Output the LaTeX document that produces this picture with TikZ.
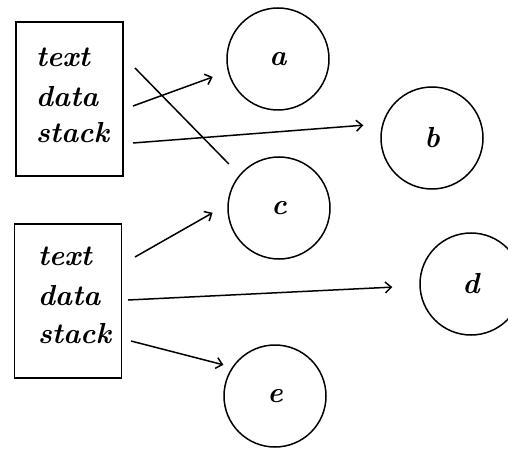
\documentclass[tikz,border=0pt]{standalone}
\usepackage{fontspec}
\usetikzlibrary{arrows.meta}

\begin{document}
\begin{tikzpicture}[x=1pt,y=-1pt,line width=1.5pt,
  proc/.style={draw,minimum width=107pt,minimum height=154pt},
  seg/.style={font=\fontsize{29}{38}\selectfont\bfseries\itshape,anchor=base west,inner sep=0pt},
  obj/.style={draw,circle,minimum size=102pt,inner sep=0pt,font=\fontsize{29}{38}\selectfont\bfseries\itshape},
  link/.style={-{Straight Barb[length=6pt,width=11pt]}}]
\clip (0,0) rectangle (508,449);
% two processes
\node[proc] (upper) at (69.5,99) {};
\node[seg] (utext) at (35,67) {text};
\node[seg] (udata) at (35,107) {data};
\node[seg] (ustack) at (35,143) {stack};
\node[proc] (lower) at (68,301) {};
\node[seg] (ltext) at (37,265) {text};
\node[seg] (ldata) at (37,305) {data};
\node[seg] (lstack) at (37,343) {stack};
% objects
\node[obj] (a) at (278,59) {a};
\node[obj] (b) at (432,138) {b};
\node[obj] (c) at (279,208) {c};
\node[obj] (d) at (471,284) {d};
\node[obj] (e) at (275,396) {e};
% where the references leave the boxes
\coordinate (u1) at (135,68);
\coordinate (u2) at (133,106);
\coordinate (u3) at (133,143);
\coordinate (l1) at (135,257);
\coordinate (l2) at (128,300);
\coordinate (l3) at (131,341);
% references
\draw[shorten >=15pt] (u1) -- (c.140);
\draw[link,shorten >=16pt] (u2) -- (a.194);
\draw[link,shorten >=19pt] (u3) -- (b.164);
\draw[link,shorten >=17pt] (l1) -- (c.176);
\draw[link,shorten >=27pt] (l2) -- (d.182);
\draw[link,shorten >=9pt] (l3) -- (e.146);
\end{tikzpicture}
\end{document}
